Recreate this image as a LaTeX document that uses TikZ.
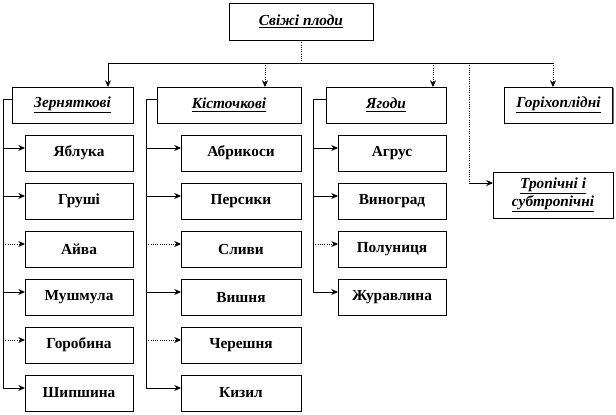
\documentclass[tikz,border=0pt]{standalone}
\usepackage{fontspec}
\setmainfont{Liberation Serif}
\usepackage{tikz}
\usetikzlibrary{arrows.meta,positioning,shadows}

\begin{document}
\begin{tikzpicture}[
    x=0.75pt, y=-0.75pt,
    box/.style={rectangle, draw, line width=0.6pt, fill=white, minimum height=27pt, outer sep=0pt, align=center, inner sep=2pt, font=\fontsize{11.5}{13}\selectfont\bfseries, drop shadow={shadow xshift=1.1pt, shadow yshift=-1.1pt, fill=black!55, opacity=1}},
    head/.style={box, font=\fontsize{11.5}{12}\selectfont\bfseries\itshape},
    arrow/.style={-{Stealth[length=5pt,width=4.5pt]}, line width=0.7pt},
    line/.style={line width=0.7pt},
    dots/.style={densely dotted}
]
\useasboundingbox (0,0) rectangle (616,414);

% Root
\node[head, minimum width=108pt, minimum height=27.75pt] (root) at (301,21.5) {\underline{Свіжі плоди}};

% Groups
\node[head, minimum width=90.75pt] (zern) at (72.5,105) {\underline{Зерняткові}};
\node[head, minimum width=108pt] (kist) at (229,105) {\underline{Кісточкові}};
\node[head, minimum width=90pt] (yahody) at (386,105) {\underline{Ягоди}};
\node[head, minimum width=81pt] (horikh) at (558.5,105) {\underline{Горіхоплідні}};
\node[head, minimum width=90pt, minimum height=34.5pt] (trop) at (553,195) {\underline{Тропічні і}\\\underline{субтропічні}};

% Pome fruits
\node[box, minimum width=81pt, below=9pt of zern.south east, anchor=north east] (yabl) {Яблука};
\node[box, minimum width=81pt, below=9pt of yabl] (grushi) {Груші};
\node[box, minimum width=81pt, below=9pt of grushi] (aiva) {Айва};
\node[box, minimum width=81pt, below=9pt of aiva] (mushm) {Мушмула};
\node[box, minimum width=81pt, below=9pt of mushm] (horob) {Горобина};
\node[box, minimum width=81pt, below=9pt of horob] (shyp) {Шипшина};

% Stone fruits
\node[box, minimum width=90pt, below=9pt of kist.south east, anchor=north east] (abryk) {Абрикоси};
\node[box, minimum width=90pt, below=9pt of abryk] (persyk) {Персики};
\node[box, minimum width=90pt, below=9pt of persyk] (slyvy) {Сливи};
\node[box, minimum width=90pt, below=9pt of slyvy] (vyshnia) {Вишня};
\node[box, minimum width=90pt, below=9pt of vyshnia] (chereshnia) {Черешня};
\node[box, minimum width=90pt, below=9pt of chereshnia] (kyzyl) {Кизил};

% Berries
\node[box, minimum width=81pt, below=9pt of yahody.south east, anchor=north east] (ahrus) {Агрус};
\node[box, minimum width=81pt, below=9pt of ahrus] (vynohrad) {Виноград};
\node[box, minimum width=81pt, below=9pt of vynohrad] (polun) {Полуниця};
\node[box, minimum width=81pt, below=9pt of polun] (zhurav) {Журавлина};

% Bus from the root
\coordinate (bz) at (108,63);
\coordinate (bk) at (265,63);
\coordinate (by) at (433,63);
\coordinate (bt) at (469,63);
\coordinate (bh) at (553,63);
\coordinate (bt2) at (469,183);

\draw[line, dots] (root.south) -- (root.south |- bz);
\draw[line] (bz) -- (bh);
\draw[arrow] (bz) -- (bz |- zern.north);
\draw[arrow, dots] (bk) -- (bk |- kist.north);
\draw[arrow, dots] (by) -- (by |- yahody.north);
\draw[arrow, dots] (bh) -- (bh |- horikh.north);
\draw[line, dots] (bt) -- (bt2);
\draw[arrow] (bt2) -- (bt2 -| trop.west);

% Trunks
\coordinate (zt) at (3,99);
\coordinate (kt) at (146,99);
\coordinate (yt) at (313,99);

\draw[arrow] ([yshift=4.5pt]zern.west) -- (zt) |- ([yshift=3.75pt]shyp.west);
\draw[arrow] ([yshift=3.75pt]yabl.west -| zt) -- ([yshift=3.75pt]yabl.west);
\draw[arrow] ([yshift=3.75pt]grushi.west -| zt) -- ([yshift=3.75pt]grushi.west);
\draw[arrow, dots] ([yshift=3.75pt]aiva.west -| zt) -- ([yshift=3.75pt]aiva.west);
\draw[arrow] ([yshift=3.75pt]mushm.west -| zt) -- ([yshift=3.75pt]mushm.west);
\draw[arrow, dots] ([yshift=3.75pt]horob.west -| zt) -- ([yshift=3.75pt]horob.west);

\draw[arrow] ([yshift=4.5pt]kist.west) -- (kt) |- ([yshift=3.75pt]kyzyl.west);
\draw[arrow] ([yshift=3.75pt]abryk.west -| kt) -- ([yshift=3.75pt]abryk.west);
\draw[arrow] ([yshift=3.75pt]persyk.west -| kt) -- ([yshift=3.75pt]persyk.west);
\draw[arrow, dots] ([yshift=3.75pt]slyvy.west -| kt) -- ([yshift=3.75pt]slyvy.west);
\draw[arrow] ([yshift=3.75pt]vyshnia.west -| kt) -- ([yshift=3.75pt]vyshnia.west);
\draw[arrow, dots] ([yshift=3.75pt]chereshnia.west -| kt) -- ([yshift=3.75pt]chereshnia.west);

\draw[arrow] ([yshift=4.5pt]yahody.west) -- (yt) |- ([yshift=3.75pt]zhurav.west);
\draw[arrow] ([yshift=3.75pt]ahrus.west -| yt) -- ([yshift=3.75pt]ahrus.west);
\draw[arrow] ([yshift=3.75pt]vynohrad.west -| yt) -- ([yshift=3.75pt]vynohrad.west);
\draw[arrow, dots] ([yshift=3.75pt]polun.west -| yt) -- ([yshift=3.75pt]polun.west);

\end{tikzpicture}
\end{document}
